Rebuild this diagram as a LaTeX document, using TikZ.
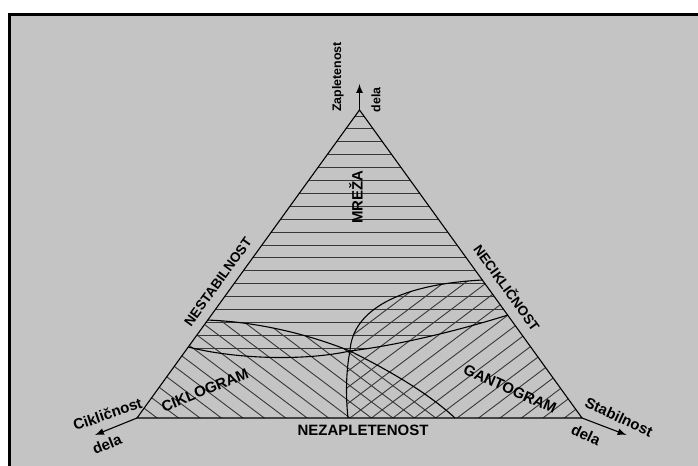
\documentclass[tikz,border=0pt]{standalone}
\usepackage{fontspec}
\setmainfont{Liberation Sans}
\usetikzlibrary{arrows}
\usetikzlibrary{calc, math}
\definecolor{mygray}{RGB}{196,196,196}
\definecolor{myhatch}{RGB}{55,55,55}

\tikzset{
  lbl/.style={font=\bfseries\fontsize{7.5}{9}\selectfont, inner sep=0pt},
  lblside/.style={font=\bfseries\fontsize{6.8}{8}\selectfont, inner sep=0pt},
  lblvert/.style={font=\bfseries\fontsize{6.2}{7}\selectfont, inner sep=0pt, rotate=90},
  hatch/.style={line width=0.45pt, color=myhatch},
  edge/.style={line width=0.55pt},
}

\begin{document}
\begin{tikzpicture}[x=0.5pt, y=0.5pt]
\tikzmath{
\spc=12.9;
\tilt=37;
}
\useasboundingbox (0,0) rectangle (698,466);
\fill[white] (0,0) rectangle (698,466);
\fill[black] (8,0) rectangle (698,453);
\fill[mygray] (11,0) rectangle (698,450);

\coordinate (A) at (359.5,356);
\coordinate (L) at (137,48);
\coordinate (R) at (582,48);
\coordinate (M) at (350,115);
\coordinate (C0) at ($(L)!0.318!(A)$);
\coordinate (D0) at ($(L)!0.2305!(A)$);
\coordinate (G0) at ($(R)!0.448!(A)$);
\coordinate (B0) at ($(R)!0.334!(A)$);
\coordinate (G1) at (348,48);
\coordinate (E1) at (455,48);

% MREZA
\begin{scope}
\clip (A) -- (D0) .. controls (230,108) and (300,104) .. (M)
  .. controls (400,121) and (460,136) .. (B0) -- cycle;
\foreach \k in {0,...,18}
  \draw[hatch] (100,350-\k*\spc) -- (600,350-\k*\spc);
\end{scope}

% CIKLOGRAM
\begin{scope}
\clip (C0) -- (L) -- (E1) .. controls (425,76) and (380,100) .. (M)
  .. controls (310,131) and (260,144) .. (C0) -- cycle;
\begin{scope}[rotate around={-\tilt:(350,48)}]
\foreach \k in {-20,...,20}
  \draw[hatch] (-100,48+\k*\spc) -- (800,48+\k*\spc);
\end{scope}
\end{scope}

% GANTOGRAM
\begin{scope}
\clip (G1) -- (R) -- (G0) .. controls (390,181) and (352,151) .. (M)
  .. controls (347,101) and (345,76) .. (G1) -- cycle;
\begin{scope}[rotate around={\tilt:(350,48)}]
\foreach \k in {-20,...,20}
  \draw[hatch] (-100,48+\k*\spc) -- (800,48+\k*\spc);
\end{scope}
\end{scope}

\draw[edge] (L) -- (A) -- (R) -- cycle;
\draw[edge] (D0) .. controls (230,108) and (300,104) .. (M)
  .. controls (400,121) and (460,136) .. (B0);
\draw[edge] (C0) .. controls (260,144) and (310,131) .. (M)
  .. controls (380,100) and (425,76) .. (E1);
\draw[edge] (G1) .. controls (345,76) and (347,101) .. (M)
  .. controls (352,151) and (390,181) .. (G0);

% axes
\coordinate (Atip) at (359.5,382);
\coordinate (Ltip) at (95,31);
\coordinate (Rtip) at (626.5,31);
\draw[-latex, edge] (A) -- (Atip);
\draw[-latex, edge] (L) -- (Ltip);
\draw[-latex, edge] (R) -- (Rtip);

\node[lblvert] (zap) at (338,389) {Zapletenost};
\node[lblvert] (zapd) at (376,366) {dela};
\node[lbl, rotate=90] (mreza) at (356,269) {MREŽA};
\node[lblside, rotate=54.2] (nestab) at (218,184) {NESTABILNOST};
\node[lblside, rotate=-54.2] (necik) at (507.5,178.5) {NECIKLIČNOST};
\node[lbl, rotate=22] (cikl) at (205,76) {CIKLOGRAM};
\node[lbl, rotate=-24] (gant) at (510,77) {GANTOGRAM};
\node[lbl] (nezap) at (363,36) {NEZAPLETENOST};
\node[lbl, rotate=19] (cikn) at (107.5,52) {Cikličnost};
\node[lbl, rotate=22] (ciknd) at (107,22) {dela};
\node[lbl, rotate=-25] (stab) at (619,49) {Stabilnost};
\node[lbl, rotate=-25] (stabd) at (586,31) {dela};
\end{tikzpicture}
\end{document}
